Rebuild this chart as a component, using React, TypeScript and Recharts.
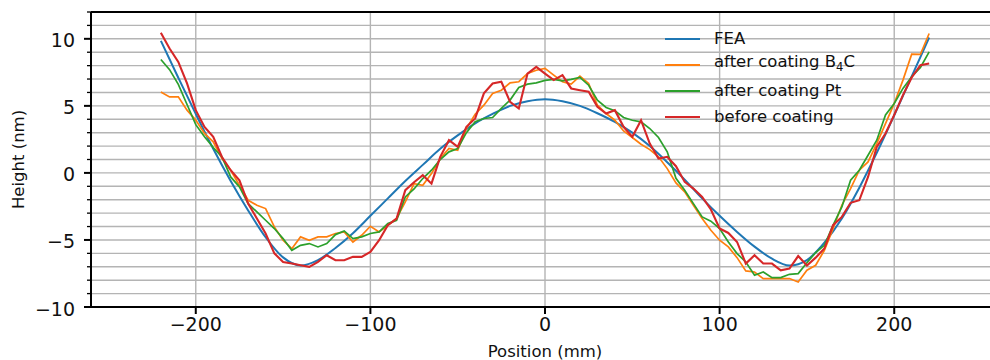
import React from "react";
import { CartesianGrid, Legend, Line, LineChart, ReferenceLine, XAxis, YAxis } from "recharts";

const FONT = "'DejaVu Sans', sans-serif";

// position along the mirror (mm), measured profiles every 5 mm
const positions = [
  -220, -215, -210, -205, -200, -195, -190, -185, -180, -175, -170, -165, -160, -155, -150,
  -145, -140, -135, -130, -125, -120, -115, -110, -105, -100, -95, -90, -85, -80, -75,
  -70, -65, -60, -55, -50, -45, -40, -35, -30, -25, -20, -15, -10, -5, 0,
  5, 10, 15, 20, 25, 30, 35, 40, 45, 50, 55, 60, 65, 70, 75,
  80, 85, 90, 95, 100, 105, 110, 115, 120, 125, 130, 135, 140, 145, 150,
  155, 160, 165, 170, 175, 180, 185, 190, 195, 200, 205, 210, 215, 220,
];

const afterB4C = [
  6.04, 5.67, 5.67, 4.68, 3.94, 2.94, 2.32, 1.07, 0.2, -0.92, -2.04, -2.41, -2.66, -4.03, -5.02,
  -5.65, -4.77, -5.02, -4.77, -4.77, -4.52, -4.4, -5.15, -4.65, -3.98, -4.4, -3.9, -3.4, -2.16, -0.8,
  -0.92, -0.05, 1.07, 1.82, 1.69, 3.31, 4.38, 5.05, 5.93, 6.17, 6.72, 6.8, 7.41, 7.66, 7.8,
  7.29, 6.8, 6.62, 7.22, 6.67, 5.05, 4.43, 3.93, 3.13, 2.64, 2.14, 1.74, 1.2, 0.32, -0.75,
  -1.41, -2.41, -3.41, -4.28, -5.02, -5.52, -6.32, -7.31, -7.39, -7.88, -7.88, -7.88, -7.88, -8.13, -7.26,
  -6.89, -5.77, -4.15, -2.41, -1.17, 0.2, 0.82, 2.19, 3.68, 5.18, 6.92, 8.86, 8.84, 10.4,
];

const afterPt = [
  8.46, 7.7, 6.6, 5.1, 3.6, 2.69, 1.89, 1.19, -0.3, -1.04, -2.29, -2.91, -3.53, -4.15, -4.9,
  -5.77, -5.4, -5.27, -5.52, -5.27, -4.6, -4.33, -4.9, -4.77, -4.52, -4.4, -3.78, -3.53, -1.79, -1.2,
  -0.42, 0.2, 1.0, 1.57, 1.82, 3.0, 3.81, 4.06, 4.13, 4.81, 5.43, 6.37, 6.62, 6.72, 6.9,
  6.97, 6.87, 6.97, 7.12, 6.54, 5.42, 4.88, 4.63, 4.13, 3.93, 3.81, 3.31, 2.64, 1.57, -0.4,
  -1.29, -2.29, -3.28, -3.6, -4.15, -5.15, -6.02, -6.64, -7.63, -7.39, -7.81, -7.81, -7.56, -7.51, -6.7,
  -5.94, -5.4, -3.9, -2.54, -0.55, 0.2, 1.32, 2.44, 4.32, 5.18, 6.3, 7.17, 7.86, 9.03,
];

const beforeCoating = [
  10.45, 9.28, 8.28, 6.67, 4.68, 3.43, 2.69, 1.19, 0.2, -0.55, -2.29, -3.4, -4.52, -6.0, -6.64,
  -6.76, -6.89, -7.01, -6.64, -6.14, -6.51, -6.51, -6.26, -6.26, -5.89, -5.02, -3.9, -3.4, -1.29, -0.7,
  -0.17, -0.8, 1.2, 2.44, 1.94, 3.44, 4.06, 5.93, 6.67, 6.8, 5.3, 4.8, 7.41, 7.91, 7.41,
  6.92, 7.29, 6.3, 6.17, 6.05, 4.93, 4.43, 4.68, 3.44, 2.69, 3.93, 2.19, 1.07, 1.2, 0.5,
  -0.67, -1.17, -1.79, -2.73, -4.15, -4.48, -5.15, -6.76, -6.14, -6.76, -6.76, -7.26, -7.14, -6.2, -6.9,
  -6.32, -5.64, -3.9, -3.28, -2.23, -2.04, -0.3, 1.94, 2.94, 4.33, 5.8, 7.12, 8.04, 8.16,
];

// simulated profile, every 10 mm
const feaPositions = [
  -220, -210, -200, -190, -180, -170, -160, -150, -140, -130, -120, -110, -100, -90, -80,
  -70, -60, -50, -40, -30, -20, -10, 0, 10, 20, 30, 40, 50, 60, 70,
  80, 90, 100, 110, 120, 130, 140, 150, 160, 170, 180, 190, 200, 210, 220,
];
const fea = [
  9.85, 7.1, 4.4, 1.8, -0.6, -2.8, -4.8, -6.3, -6.9, -6.5, -5.6, -4.5, -3.2, -1.9, -0.6,
  0.6, 1.8, 2.8, 3.7, 4.4, 5.0, 5.35, 5.5, 5.35, 5.0, 4.45, 3.8, 3.0, 2.0, 0.8,
  -0.5, -1.9, -3.2, -4.4, -5.5, -6.4, -6.9, -6.5, -5.2, -3.4, -1.1, 1.5, 4.3, 7.2, 10.1,
];

const xTicks = [-200, -100, 0, 100, 200];
const yTicks = [-10, -9, -8, -7, -6, -5, -4, -3, -2, -1, 0, 1, 2, 3, 4, 5, 6, 7, 8, 9, 10, 11, 12];
const yMajor = [-10, -5, 0, 5, 10];

const rows = positions.map((x, i) => {
  const j = feaPositions.indexOf(x);
  return {
    x,
    fea: j >= 0 ? fea[j] : null,
    b4c: afterB4C[i],
    pt: afterPt[i],
    before: beforeCoating[i],
  };
});

const fmt = (v: number) => (v < 0 ? "\u2212" + Math.abs(v) : String(v));

function XTick({ x, y, payload }: any) {
  return (
    <text x={x} y={y} dy={15} textAnchor="middle" fontFamily={FONT} fontSize={19} fill="#111">
      {fmt(payload.value)}
    </text>
  );
}

function YTick({ x, y, payload }: any) {
  const major = yMajor.includes(payload.value);
  return (
    <g>
      <line x1={x - (major ? 7 : 4)} x2={x} y1={y} y2={y} stroke="#000" strokeWidth={major ? 2 : 1.3} />
      {major && (
        <text x={x - 16} y={y} dy={8.5} textAnchor="end" fontFamily={FONT} fontSize={19} fill="#111">
          {fmt(payload.value)}
        </text>
      )}
    </g>
  );
}

const legendItems = [
  { color: "#1f77b4", label: <>FEA</> },
  { color: "#ff7f0e", label: <>after coating B<sub style={{ fontSize: "70%" }}>4</sub>C</> },
  { color: "#2ca02c", label: <>after coating Pt</> },
  { color: "#d62728", label: <>before coating</> },
];

function LegendBox() {
  return (
    <div style={{ fontFamily: FONT, fontSize: 16.5, color: "#111" }}>
      {legendItems.map((it, i) => (
        <div key={i} style={{ display: "flex", alignItems: "center", height: 26 }}>
          <span style={{ display: "inline-block", width: 35, height: 2, background: it.color, marginRight: 14 }} />
          <span style={{ lineHeight: "26px" }}>{it.label}</span>
        </div>
      ))}
    </div>
  );
}

export default function App() {
  return (
    <div style={{ position: "fixed", left: 0, top: 0, width: 990, height: 360, overflow: "hidden", background: "#fff" }}>
      <LineChart width={1000} height={360} data={rows} margin={{ top: 12, right: 1, bottom: 0, left: 0 }}>
        <CartesianGrid
          horizontalValues={yTicks}
          verticalValues={xTicks}
          stroke="#b4b4b4"
          strokeWidth={1.4}
        />
        <XAxis
          dataKey="x"
          type="number"
          domain={[-260, 260]}
          allowDataOverflow
          ticks={xTicks}
          interval={0}
          height={53}
          tickSize={7}
          tickMargin={2}
          tickLine={{ stroke: "#000", strokeWidth: 2 }}
          axisLine={{ stroke: "#000", strokeWidth: 2 }}
          tick={<XTick />}
          label={{
            value: "Position (mm)",
            position: "insideBottom",
            offset: 3,
            style: { fontFamily: FONT, fontSize: 16.5, fill: "#111" },
          }}
        />
        <YAxis
          type="number"
          domain={[-10, 12]}
          allowDataOverflow
          ticks={yTicks}
          interval={0}
          width={91}
          tickSize={0}
          tickMargin={0}
          tickLine={false}
          axisLine={{ stroke: "#000", strokeWidth: 2 }}
          tick={<YTick />}
          label={{
            value: "Height (nm)",
            angle: -90,
            position: "insideLeft",
            offset: 18,
            style: { fontFamily: FONT, fontSize: 16.5, fill: "#111", textAnchor: "middle" },
          }}
        />
        <ReferenceLine y={12} stroke="#000" strokeWidth={2} />
        <Legend
          layout="horizontal"
          verticalAlign="middle"
          align="center"
          content={<LegendBox />}
          wrapperStyle={{ left: 665, top: 26, width: "auto" }}
        />
        <Line dataKey="fea" type="monotone" connectNulls stroke="#1f77b4" strokeWidth={2} dot={false} isAnimationActive={false} />
        <Line dataKey="b4c" type="linear" stroke="#ff7f0e" strokeWidth={1.7} dot={false} isAnimationActive={false} />
        <Line dataKey="pt" type="linear" stroke="#2ca02c" strokeWidth={1.7} dot={false} isAnimationActive={false} />
        <Line dataKey="before" type="linear" stroke="#d62728" strokeWidth={2.1} dot={false} isAnimationActive={false} />
      </LineChart>
    </div>
  );
}
